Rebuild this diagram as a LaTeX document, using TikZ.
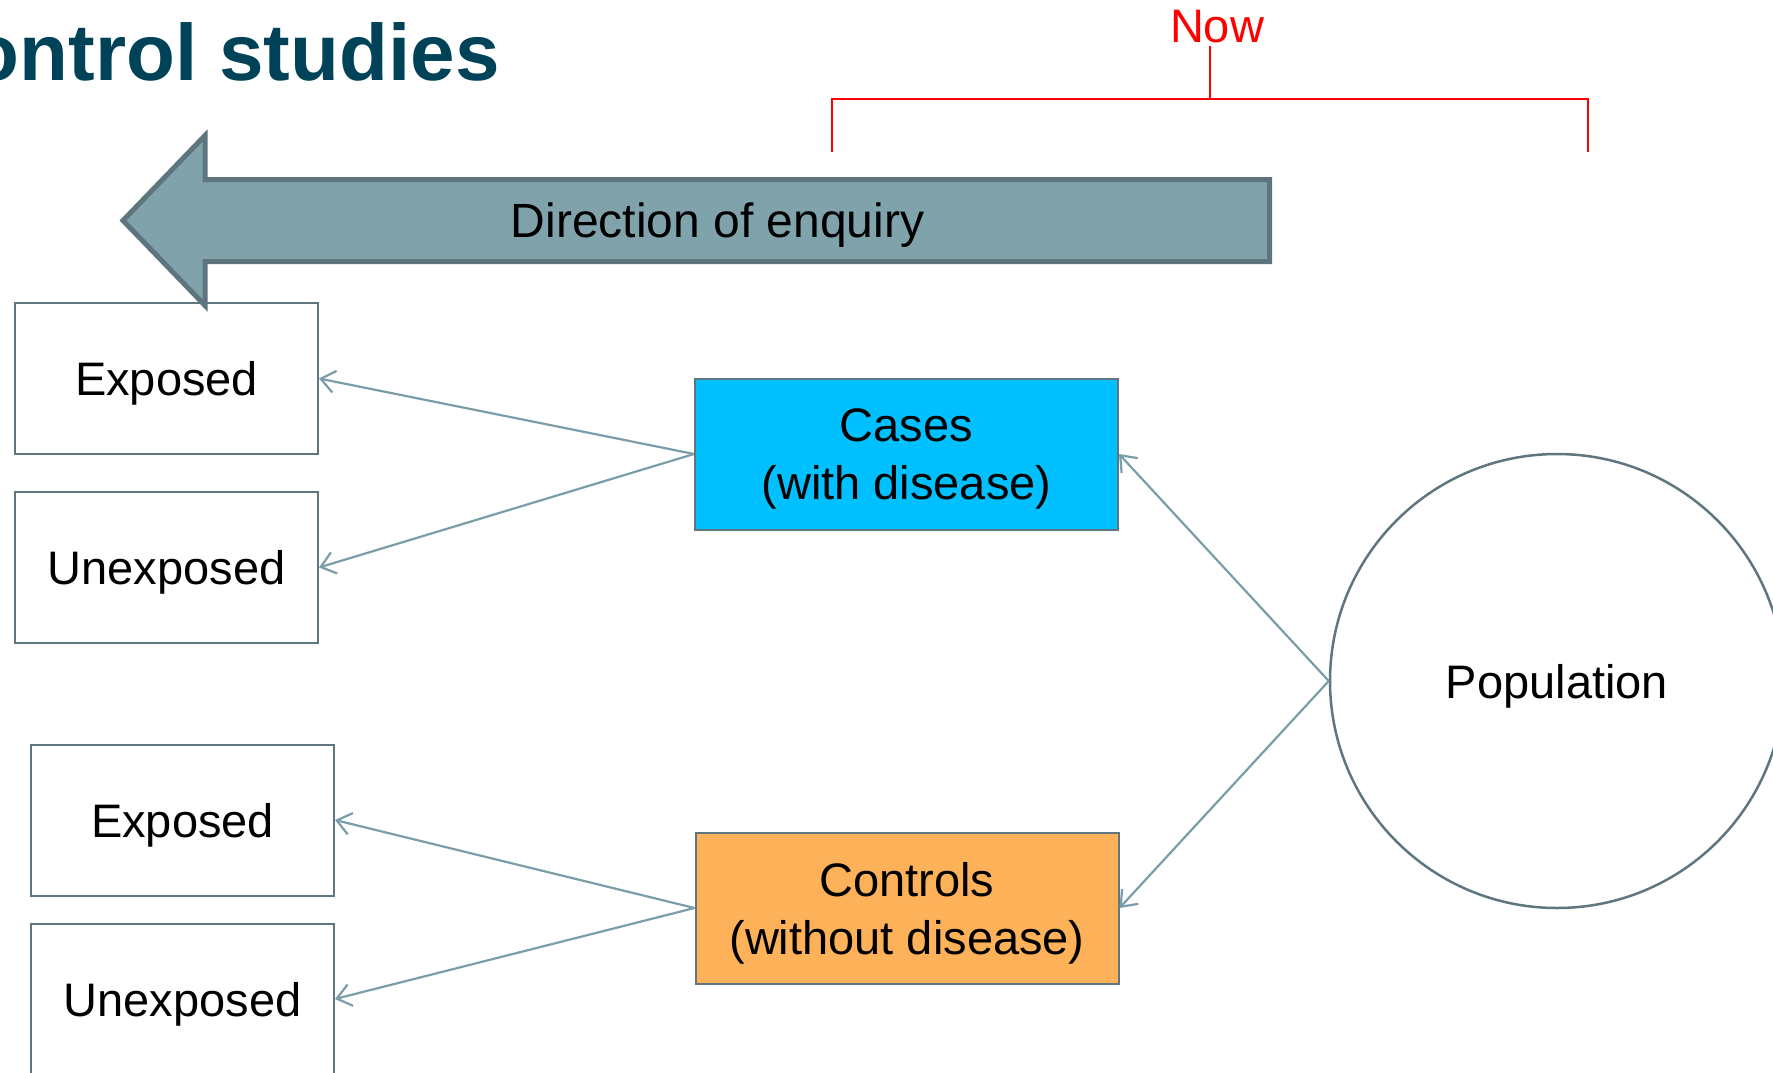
\documentclass[tikz,border=0pt]{standalone}
\usepackage{fontspec}
\setmainfont{Liberation Sans}
\usetikzlibrary{arrows.meta,calc}
\definecolor{titleblue}{HTML}{004359}
\definecolor{arrowfill}{HTML}{7FA2AB}
\definecolor{arrowline}{HTML}{5E757D}
\definecolor{boxline}{HTML}{5F7680}
\definecolor{connline}{HTML}{7A9EA8}
\definecolor{casefill}{HTML}{00C0FF}
\definecolor{controlfill}{HTML}{FDB158}
\begin{document}
\begin{tikzpicture}[x=0.5pt,y=-0.5pt,
  box/.style={draw=boxline, line width=1pt, minimum width=151.5pt,
    minimum height=75.5pt, inner sep=0pt, text depth=0pt, align=center,
    font=\fontsize{23.5}{29}\selectfont},
  groupbox/.style={box, minimum width=211.5pt},
  conn/.style={draw=connline, line width=1.1pt,
    -{Straight Barb[length=7pt,width=11pt]}},
  bracket/.style={draw=red, line width=1pt}]
\useasboundingbox (0,0) rectangle (1773,1072);
\clip (0,0) rectangle (1773,1072);

% heading
\node[anchor=base east, inner sep=0pt, text=titleblue,
  font=\fontsize{40}{48}\selectfont\bfseries] (title) at (500,80) {ontrol studies};

% "Now" marker with its bracket
\node[anchor=base, inner sep=0pt, text=red, font=\fontsize{23.5}{28}\selectfont]
  (now) at (1217,42) {Now};
\coordinate (nowfoot) at (1210,46);
\coordinate (nowmid) at (1210,99);
\coordinate (bl) at (832,99);
\coordinate (br) at (1588,99);
\draw[bracket] (nowfoot) -- (nowmid);
\draw[bracket] ($(bl)+(0,53)$) -- (bl) -- (br) -- ($(br)+(0,53)$);

% direction of enquiry arrow
\draw[draw=arrowline, fill=arrowfill, line width=2.5pt]
  (1269.5,179.5) -- (205,179.5) -- (205,135.5) -- (123,220.5)
  -- (205,305.5) -- (205,261.5) -- (1269.5,261.5) -- cycle;
\node[anchor=base, inner sep=0pt, font=\fontsize{24}{29}\selectfont]
  (dir) at (717.5,237) {Direction of enquiry};

% exposure boxes
\node[box] (exp1)   at (166.5,378.5) {Exposed};
\node[box] (unexp1) at (166.5,567.5) {Unexposed};
\node[box] (exp2)   at (182.5,820)   {Exposed};
\node[box] (unexp2) at (182.5,999)   {Unexposed};

% study groups
\node[groupbox, fill=casefill] (cases) at (906.5,454) {Cases\\(with disease)};
\node[groupbox, fill=controlfill] (controls) at (907,908) {Controls\\(without disease)};

% source population
\node[circle, draw=boxline, line width=1.25pt, minimum size=227pt, inner sep=0pt,
  text depth=0pt, font=\fontsize{23.5}{29}\selectfont] (pop) at (1557,681) {Population};

% connectors
\draw[conn] (pop.west) -- (cases.east);
\draw[conn] (pop.west) -- (controls.east);
\draw[conn] (cases.west) -- (exp1.east);
\draw[conn] (cases.west) -- (unexp1.east);
\draw[conn] (controls.west) -- (exp2.east);
\draw[conn] (controls.west) -- (unexp2.east);
\end{tikzpicture}
\end{document}
